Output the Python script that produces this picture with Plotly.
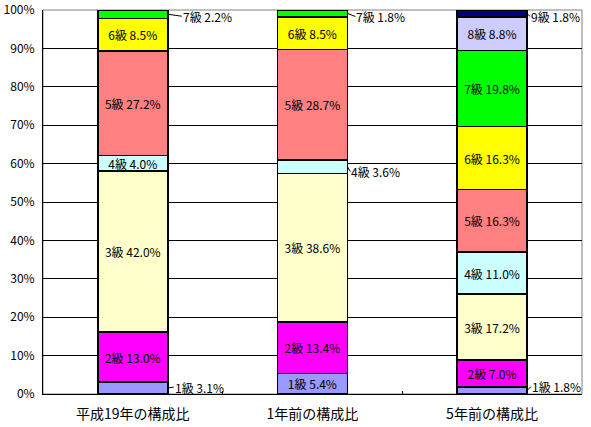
import plotly.graph_objects as go

categories = ["平成19年の構成比", "1年前の構成比", "5年前の構成比"]
grades = ["1級", "2級", "3級", "4級", "5級", "6級", "7級", "8級", "9級"]
values_h19 = [3.1, 13.0, 42.0, 4.0, 27.2, 8.5, 2.2, None, None]
values_1y = [5.4, 13.4, 38.6, 3.6, 28.7, 8.5, 1.8, None, None]
values_5y = [1.8, 7.0, 17.2, 11.0, 16.3, 16.3, 19.8, 8.8, 1.8]
colors = ["#9999FF", "#FF00FF", "#FFFFCC", "#CCFFFF", "#FF8080",
          "#FFFF00", "#00FF00", "#CCCCFF", "#000080"]
# labels drawn outside the bar with a leader line: (category index, grade index)
outside_labels = [(0, 6), (0, 0), (1, 6), (1, 3), (2, 8), (2, 0)]
# pixel offsets of those labels from the bar edge (styling)
label_offsets = [(14, 2), (6, -1), (8, 3), (3, 5), (3, 3), (4, -4)]

series = [values_h19, values_1y, values_5y]
FONT = "MS PGothic, Noto Sans CJK JP, sans-serif"

fig = go.Figure()
for g, grade in enumerate(grades):
    ys, texts = [], []
    for c in range(len(categories)):
        v = series[c][g]
        ys.append(v)
        if v is None or (c, g) in outside_labels:
            texts.append("")
        else:
            texts.append(f"{grade} {v:.1f}%")
    fig.add_trace(go.Bar(
        x=categories, y=ys, name=grade, text=texts,
        textposition="inside", insidetextanchor="middle", textangle=0,
        textfont=dict(color="black", size=12, family=FONT),
        marker=dict(color=colors[g], line=dict(color="black", width=1.5)),
        hoverinfo="skip",
    ))

for (c, g), (ax, ay) in zip(outside_labels, label_offsets):
    vals = series[c]
    below = sum(v for v in vals[:g] if v is not None)
    mid = below + vals[g] / 2
    fig.add_annotation(
        x=categories[c], y=mid, xref="x", yref="y", xshift=35,
        text=f"{grades[g]} {vals[g]:.1f}%", showarrow=True, arrowhead=0,
        arrowwidth=1, arrowcolor="black", ax=ax, ay=ay, xanchor="left",
        borderpad=0, font=dict(color="black", size=12, family=FONT),
    )

fig.add_shape(type="rect", xref="paper", yref="paper", x0=0, x1=1, y0=0, y1=1,
              line=dict(color="#808080", width=1), layer="below")

fig.update_layout(
    width=591, height=427, barmode="stack", bargap=0.61, showlegend=False,
    margin=dict(l=43, r=9, t=10, b=33, autoexpand=False),
    plot_bgcolor="white", paper_bgcolor="white",
    font=dict(family=FONT, size=12, color="black"),
    uniformtext=dict(minsize=12, mode="show"),
    xaxis=dict(showline=True, linecolor="black", linewidth=1, ticks="inside",
               tickson="boundaries", ticklen=3, tickcolor="black",
               automargin=False, ticklabelstandoff=7,
               tickfont=dict(size=14, family=FONT)),
    yaxis=dict(range=[0, 100], dtick=10, ticksuffix="%", showline=True,
               linecolor="black", linewidth=1, showgrid=True, gridcolor="black",
               gridwidth=1, zeroline=False, ticks="", automargin=False,
               ticklabelstandoff=5, tickfont=dict(size=12, family=FONT)),
)

fig.write_html(
    "out.html",
    config={"displayModeBar": False, "staticPlot": True},
    post_script="document.body.style.margin='0';document.body.style.overflow='hidden';",
)
